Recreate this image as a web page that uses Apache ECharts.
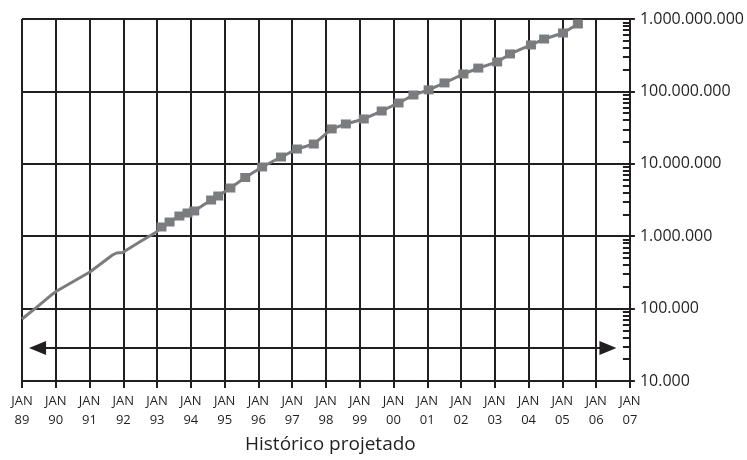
<!DOCTYPE html>
<html>
<head>
<meta charset="utf-8">
<script src="https://cdn.jsdelivr.net/npm/echarts@6/dist/echarts.min.js"></script>
<style>
  html, body { margin: 0; padding: 0; background: #fff; }
  #chart { width: 747px; height: 460px; }
</style>
</head>
<body>
<div id="chart"></div>
<script>
// historical stretch (no markers)
var histYears = [1989.00, 1989.44, 1989.83, 1990.03, 1991.01, 1991.68, 1991.80, 1991.98, 1992.48, 1992.98, 1993.13];
var histValues = [71800, 105000, 149000, 175000, 321000, 550000, 586000, 596000, 832000, 1143000, 1340000];

// projected stretch (square markers)
var markYears = [1993.13, 1993.37, 1993.66, 1993.90, 1994.10, 1994.60, 1994.81, 1995.17, 1995.61, 1996.11,
  1996.67, 1997.14, 1997.64, 1998.17, 1998.59, 1999.12, 1999.65, 2000.15, 2000.59, 2001.04,
  2001.51, 2002.07, 2002.51, 2003.07, 2003.45, 2004.07, 2004.46, 2005.02, 2005.46];
var markValues = [1340000, 1570000, 1900000, 2090000, 2230000, 3160000, 3590000, 4630000, 6470000, 9040000,
  12400000, 16000000, 18750000, 30300000, 35500000, 41600000, 53600000, 69200000, 89200000, 105000000,
  131000000, 174000000, 210000000, 255000000, 329000000, 438000000, 529000000, 641000000, 853000000];

// double arrow across the chart
var arrowYears = [1989.46, 2006.35];
var arrowValue = 28600;

var xMin = 1989, xMax = 2007;
var yMin = 10000, yMax = 1000000000;
var caption = 'Histórico projetado';

var ink = '#231f20';
var gray = '#7b7c7f';

function pairs(xs, ys) {
    var res = [];
    for (var i = 0; i < xs.length; i++) res.push([xs[i], ys[i]]);
    return res;
}

function dots(v) {
    return String(Math.round(v)).replace(/\B(?=(\d{3})+(?!\d))/g, '.');
}

var chart = echarts.init(document.getElementById('chart'), null, { renderer: 'canvas' });

var option = {
    animation: false,
    textStyle: { fontFamily: 'Open Sans' },
    title: {
        text: caption,
        left: 240,
        top: 430,
        textStyle: { fontSize: 19, fontWeight: 'normal', color: '#231f20', fontFamily: 'Open Sans' }
    },
    grid: { left: 22, right: 115, top: 19, bottom: 79, containLabel: false },
    xAxis: {
        type: 'value',
        min: xMin,
        max: xMax,
        interval: 1,
        axisLine: { show: true, lineStyle: { color: ink, width: 2 } },
        axisTick: { show: true, length: 7, lineStyle: { color: ink, width: 2 } },
        axisLabel: {
            color: '#231f20',
            fontSize: 13,
            lineHeight: 19,
            margin: 11,
            formatter: function (v) {
                return 'JAN\n' + String(v % 100).padStart(2, '0');
            }
        },
        splitLine: { show: true, lineStyle: { color: ink, width: 2 } }
    },
    yAxis: [
        {
            type: 'log',
            logBase: 10,
            min: yMin,
            max: yMax,
            position: 'right',
            axisLine: { show: true, onZero: false, lineStyle: { color: ink, width: 2 } },
            axisTick: { show: true, length: 5, lineStyle: { color: ink, width: 2 } },
            axisLabel: {
                color: '#231f20',
                fontSize: 16,
                margin: 10,
                formatter: dots
            },
            splitLine: { show: true, lineStyle: { color: ink, width: 2 } }
        },
        {
            type: 'log',
            logBase: 10,
            min: yMin,
            max: yMax,
            position: 'right',
            axisLine: { show: false },
            axisTick: { show: false, inside: true },
            axisLabel: { show: false },
            minorTick: { show: true, splitNumber: 9, length: 7, lineStyle: { color: ink, width: 2 } },
            splitLine: { show: false }
        }
    ],
    series: [
        {
            name: 'hist',
            type: 'line',
            yAxisIndex: 0,
            data: pairs(histYears, histValues),
            showSymbol: false,
            symbol: 'none',
            lineStyle: { color: gray, width: 3 },
            z: 5,
            markLine: {
                silent: true,
                symbol: ['triangle', 'triangle'],
                symbolSize: [14, 17],
                label: { show: false },
                lineStyle: { color: ink, width: 2, type: 'solid' },
                data: [[
                    { coord: [arrowYears[0], arrowValue] },
                    { coord: [arrowYears[1], arrowValue] }
                ]]
            }
        },
        {
            name: 'proj',
            type: 'line',
            yAxisIndex: 0,
            data: pairs(markYears, markValues),
            symbol: 'rect',
            symbolSize: [10, 9],
            itemStyle: { color: gray },
            lineStyle: { color: gray, width: 3 },
            z: 6
        }
    ]
};

option && chart.setOption(option);
</script>
</body>
</html>
